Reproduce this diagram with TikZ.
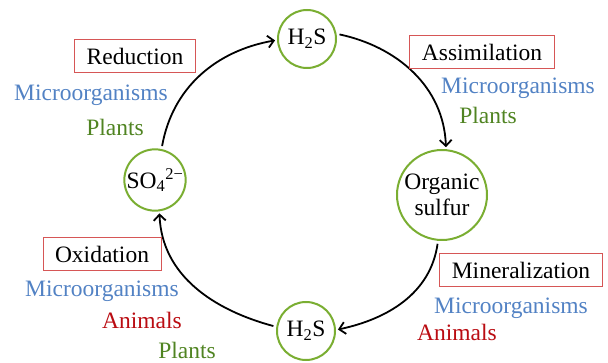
\documentclass[tikz,border=0pt]{standalone}
\usepackage{fontspec}
\setmainfont{Liberation Serif}
\usepackage{tikz}
\usetikzlibrary{arrows.meta}
\definecolor{sulfurG}{RGB}{122,174,50}
\definecolor{boxR}{RGB}{214,86,86}
\definecolor{microB}{RGB}{82,130,196}
\definecolor{plantG}{RGB}{80,132,34}
\definecolor{animalR}{RGB}{186,12,18}
\newcommand{\cycfont}{\fontsize{23.5}{27}\selectfont}
\tikzset{
	% compounds of the cycle
	species/.style={circle, draw=sulfurG, line width=2pt, fill=white, minimum size=58pt, inner sep=0pt, font=\cycfont, align=center},
	% process names in frames
	process/.style={draw=boxR, line width=0.9pt, inner xsep=12pt, minimum height=33pt, font=\cycfont},
	actor/.style={inner sep=0pt, font=\cycfont},
	cyclearrow/.style={line width=1.8pt, -{Straight Barb[length=6pt,width=12pt,line width=1.8pt]}, shorten <=3pt, shorten >=2pt},
}

\begin{document}
\begin{tikzpicture}[x=1pt, y=-1pt]
	\useasboundingbox (0,0) rectangle (608,363);
	% the four compounds
	\node[species] (h2stop) at (307, 39) {H\textsubscript{2}S};
	\node[species] (so4) at (155, 180) {SO\textsubscript{4}\textsuperscript{2−}};
	\node[species, minimum size=90pt] (orgS) at (442, 195) {Organic\\[-1pt]sulfur};
	\node[species] (h2sbot) at (306, 331) {H\textsubscript{2}S};
	% arrows round the cycle
	\draw[cyclearrow] (so4.78) to[out=80, in=190] (h2stop.182);
	\draw[cyclearrow] (h2stop.10) to[out=-12, in=92] (orgS.85);
	\draw[cyclearrow] (orgS.265) to[out=262, in=12] (h2sbot.2);
	\draw[cyclearrow] (h2sbot.172) to[out=165, in=-88] (so4.-82);
	% processes
	\node[process] (reduction) at (135, 56) {Reduction};
	\node[process] (assimilation) at (482, 52) {Assimilation};
	\node[process] (oxidation) at (102, 254) {Oxidation};
	\node[process] (mineralization) at (521, 270) {Mineralization};
	% organisms
	\node[actor, text=microB] (redMicro) at (91, 95) {Microorganisms};
	\node[actor, text=plantG] (redPlants) at (115, 127) {Plants};
	\node[actor, text=microB] (assMicro) at (518, 88) {Microorganisms};
	\node[actor, text=plantG] (assPlants) at (488, 115) {Plants};
	\node[actor, text=microB] (oxMicro) at (102, 291) {Microorganisms};
	\node[actor, text=animalR] (oxAnimals) at (142, 320) {Animals};
	\node[actor, text=plantG] (oxPlants) at (187, 350) {Plants};
	\node[actor, text=microB] (minMicro) at (511, 308) {Microorganisms};
	\node[actor, text=animalR] (minAnimals) at (457, 332) {Animals};
\end{tikzpicture}
\end{document}
